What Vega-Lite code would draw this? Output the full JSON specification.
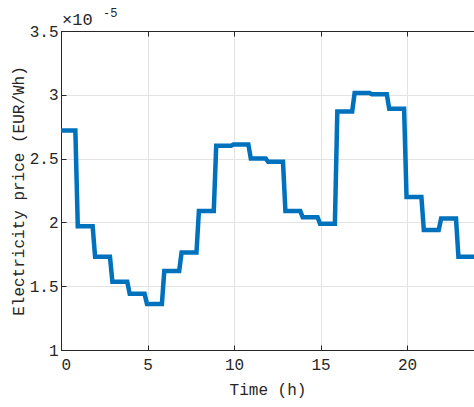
{
  "$schema": "https://vega.github.io/schema/vega-lite/v6.json",
  "width": 413,
  "height": 319,
  "autosize": {"type": "none"},
  "padding": {"left": 61, "top": 31, "right": 0, "bottom": 57},
  "background": "white",
  "config": {"view": {"stroke": null}, "font": "Liberation Mono"},
  "resolve": {"scale": {"x": "independent", "y": "independent"}},
  "layer": [
    {
      "data": {
        "values": [
          {"t": 0, "price": 2.72}, {"t": 0.83, "price": 2.72},
          {"t": 0.97, "price": 1.97}, {"t": 1.83, "price": 1.97},
          {"t": 1.97, "price": 1.73}, {"t": 2.83, "price": 1.73},
          {"t": 2.97, "price": 1.535}, {"t": 3.83, "price": 1.535},
          {"t": 3.97, "price": 1.44}, {"t": 4.83, "price": 1.44},
          {"t": 4.97, "price": 1.36}, {"t": 5.83, "price": 1.36},
          {"t": 5.97, "price": 1.62}, {"t": 6.83, "price": 1.62},
          {"t": 6.97, "price": 1.765}, {"t": 7.83, "price": 1.765},
          {"t": 7.97, "price": 2.09}, {"t": 8.83, "price": 2.09},
          {"t": 8.97, "price": 2.6}, {"t": 9.83, "price": 2.6},
          {"t": 9.97, "price": 2.61}, {"t": 10.83, "price": 2.61},
          {"t": 10.97, "price": 2.5}, {"t": 11.83, "price": 2.5},
          {"t": 11.97, "price": 2.475}, {"t": 12.83, "price": 2.475},
          {"t": 12.97, "price": 2.09}, {"t": 13.83, "price": 2.09},
          {"t": 13.97, "price": 2.04}, {"t": 14.83, "price": 2.04},
          {"t": 14.97, "price": 1.99}, {"t": 15.83, "price": 1.99},
          {"t": 15.97, "price": 2.87}, {"t": 16.83, "price": 2.87},
          {"t": 16.97, "price": 3.015}, {"t": 17.83, "price": 3.015},
          {"t": 17.97, "price": 3.005}, {"t": 18.83, "price": 3.005},
          {"t": 18.97, "price": 2.89}, {"t": 19.83, "price": 2.89},
          {"t": 19.97, "price": 2.2}, {"t": 20.83, "price": 2.2},
          {"t": 20.97, "price": 1.94}, {"t": 21.83, "price": 1.94},
          {"t": 21.97, "price": 2.03}, {"t": 22.83, "price": 2.03},
          {"t": 22.97, "price": 1.73}, {"t": 24, "price": 1.73}
        ]
      },
      "mark": {"type": "line", "color": "#0072BD", "strokeWidth": 4.5, "clip": true},
      "encoding": {
        "x": {
          "field": "t", "type": "quantitative",
          "scale": {"domain": [0, 23.87], "nice": false, "zero": false},
          "axis": {
            "values": [0, 5, 10, 15, 20], "title": "Time (h)",
            "grid": true, "gridColor": "#e3e3e3",
            "domainColor": "#262626", "tickColor": "#262626", "tickSize": -5,
            "labelColor": "#262626", "labelFont": "Liberation Mono", "labelFontSize": 16, "labelPadding": 11,
            "titleFont": "Liberation Mono", "titleFontSize": 16, "titleFontWeight": "normal",
            "titleColor": "#262626", "titlePadding": 9
          }
        },
        "y": {
          "field": "price", "type": "quantitative",
          "scale": {"domain": [1, 3.5], "nice": false, "zero": false},
          "axis": {
            "values": [1, 1.5, 2, 2.5, 3, 3.5], "format": "~g",
            "title": "Electricity price (EUR/Wh)",
            "grid": true, "gridColor": "#e3e3e3",
            "domainColor": "#262626", "tickColor": "#262626", "tickSize": -5,
            "labelColor": "#262626", "labelFont": "Liberation Mono", "labelFontSize": 16, "labelPadding": 8,
            "titleFont": "Liberation Mono", "titleFontSize": 16, "titleFontWeight": "normal",
            "titleColor": "#262626", "titlePadding": 3
          }
        }
      }
    },
    {
      "data": {"values": [{"t": 0, "price": 3.5, "label": "×10"}]},
      "mark": {"type": "text", "align": "left", "baseline": "alphabetic", "dx": 1, "dy": -6, "fontSize": 17, "font": "Liberation Mono", "color": "#262626"},
      "encoding": {
        "text": {"field": "label"},
        "x": {
          "field": "t", "type": "quantitative",
          "scale": {"domain": [0, 23.87], "nice": false, "zero": false},
          "axis": {"orient": "top", "values": [0, 5, 10, 15, 20], "labels": false, "title": null, "grid": false, "domain": true, "domainColor": "#262626", "ticks": true, "tickColor": "#262626", "tickSize": -5}
        },
        "y": {"field": "price", "type": "quantitative", "scale": {"domain": [1, 3.5], "nice": false, "zero": false}, "axis": null}
      }
    },
    {
      "data": {"values": [{"t": 0, "price": 3.5, "label": "-5"}]},
      "mark": {"type": "text", "align": "left", "baseline": "alphabetic", "dx": 42, "dy": -14, "fontSize": 12, "font": "Liberation Mono", "color": "#262626"},
      "encoding": {
        "text": {"field": "label"},
        "x": {"field": "t", "type": "quantitative", "scale": {"domain": [0, 23.87], "nice": false, "zero": false}, "axis": null},
        "y": {"field": "price", "type": "quantitative", "scale": {"domain": [1, 3.5], "nice": false, "zero": false}, "axis": null}
      }
    }
  ]
}
